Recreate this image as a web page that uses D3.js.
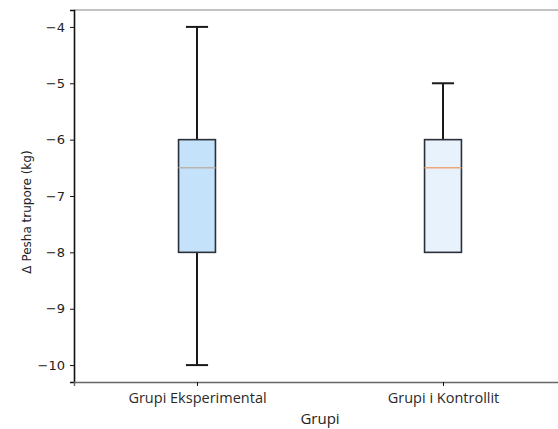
<!DOCTYPE html>
<html>
<head>
<meta charset="utf-8">
<script src="https://cdn.jsdelivr.net/npm/d3@7"></script>
<style>
  html, body { margin: 0; padding: 0; background: #ffffff; }
  svg { display: block; }
  text { fill: #222; }
</style>
</head>
<body>
<script>
// Box plot summary per group: whisker low, Q1, median, Q3, whisker high
const groups = ["Grupi Eksperimental", "Grupi i Kontrollit"];
const whiskerLow = [-10, -8];
const q1 = [-8, -8];
const median = [-6.5, -6.5];
const q3 = [-6, -6];
const whiskerHigh = [-4, -5];
const boxFills = ["#c4e2fa", "#e8f2fc"];
const medianColors = ["#b9b2ad", "#efa577"];
const yTicks = [-4, -5, -6, -7, -8, -9, -10];

const W = 558, H = 429;
const margin = { left: 74, top: 10, right: -8, bottom: 47 };

const svg = d3.select("body").append("svg").attr("width", W).attr("height", H);

const x = d3.scaleLinear().domain([0.5, 2.5]).range([margin.left, W - margin.right]);
const y = d3.scaleLinear().domain([-10.3, -3.7]).range([H - margin.bottom, margin.top]);

const unit = x(1) - x(0);
const boxHalf = 0.075 * unit;
const capHalf = 0.045 * unit;

const g = svg.append("g");

groups.forEach((name, i) => {
  const cx = x(i + 1);
  const stroke = "#1a1a1a";
  // whiskers
  g.append("line").attr("x1", cx).attr("x2", cx)
    .attr("y1", y(q3[i])).attr("y2", y(whiskerHigh[i]))
    .attr("stroke", stroke).attr("stroke-width", 2);
  g.append("line").attr("x1", cx).attr("x2", cx)
    .attr("y1", y(q1[i])).attr("y2", y(whiskerLow[i]))
    .attr("stroke", stroke).attr("stroke-width", 2);
  // caps
  [whiskerHigh[i], whiskerLow[i]].forEach(v => {
    if (v === q1[i] || v === q3[i]) return;
    g.append("line").attr("x1", cx - capHalf).attr("x2", cx + capHalf)
      .attr("y1", y(v)).attr("y2", y(v))
      .attr("stroke", stroke).attr("stroke-width", 2);
  });
  // box
  g.append("rect")
    .attr("x", cx - boxHalf).attr("width", 2 * boxHalf)
    .attr("y", y(q3[i])).attr("height", y(q1[i]) - y(q3[i]))
    .attr("fill", boxFills[i]).attr("stroke", "#2a2f3a").attr("stroke-width", 1.6);
  // median
  g.append("line").attr("x1", cx - boxHalf).attr("x2", cx + boxHalf)
    .attr("y1", y(median[i])).attr("y2", y(median[i]))
    .attr("stroke", medianColors[i]).attr("stroke-width", 1.6);
});

// spines
const x0 = margin.left, x1 = W - margin.right, y0 = margin.top, y1 = H - margin.bottom;
svg.append("line").attr("x1", x0).attr("x2", x1).attr("y1", y0).attr("y2", y0)
  .attr("stroke", "#888").attr("stroke-width", 1.2);
svg.append("line").attr("x1", x1).attr("x2", x1).attr("y1", y0).attr("y2", y1)
  .attr("stroke", "#888").attr("stroke-width", 1.2);

// y axis
const yAxis = svg.append("g").attr("transform", `translate(${x0},0)`)
  .call(d3.axisLeft(y).tickValues(yTicks).tickSize(4).tickPadding(5)
    .tickFormat(d => "\u2212" + Math.abs(d)));
yAxis.select(".domain").attr("stroke", "#111").attr("stroke-width", 1.6);
yAxis.selectAll(".tick line").attr("stroke", "#111").attr("stroke-width", 1);
yAxis.selectAll(".tick text")
  .style("font-family", "'DejaVu Sans', sans-serif").style("font-size", "13px")
  .style("fill", "#222");

// x axis
const xAxis = svg.append("g").attr("transform", `translate(0,${y1})`)
  .call(d3.axisBottom(x).tickValues([1, 2]).tickSize(4).tickPadding(7)
    .tickFormat(d => groups[d - 1]));
xAxis.select(".domain").attr("stroke", "#666").attr("stroke-width", 1.4);
xAxis.selectAll(".tick line").attr("stroke", "#111");
xAxis.selectAll(".tick text")
  .style("font-family", "'Open Sans', sans-serif").style("font-size", "14.5px")
  .style("fill", "#2a2a2a");

// axis titles
svg.append("text").attr("x", (x0 + x1) / 2).attr("y", 424)
  .attr("text-anchor", "middle")
  .style("font-family", "'Open Sans', sans-serif").style("font-size", "15px")
  .text("Grupi");
svg.append("text")
  .attr("transform", `translate(31,212) rotate(-90)`)
  .attr("text-anchor", "middle")
  .style("font-family", "'DejaVu Sans', sans-serif").style("font-size", "12px")
  .text("\u0394 Pesha trupore (kg)");
</script>
</body>
</html>
